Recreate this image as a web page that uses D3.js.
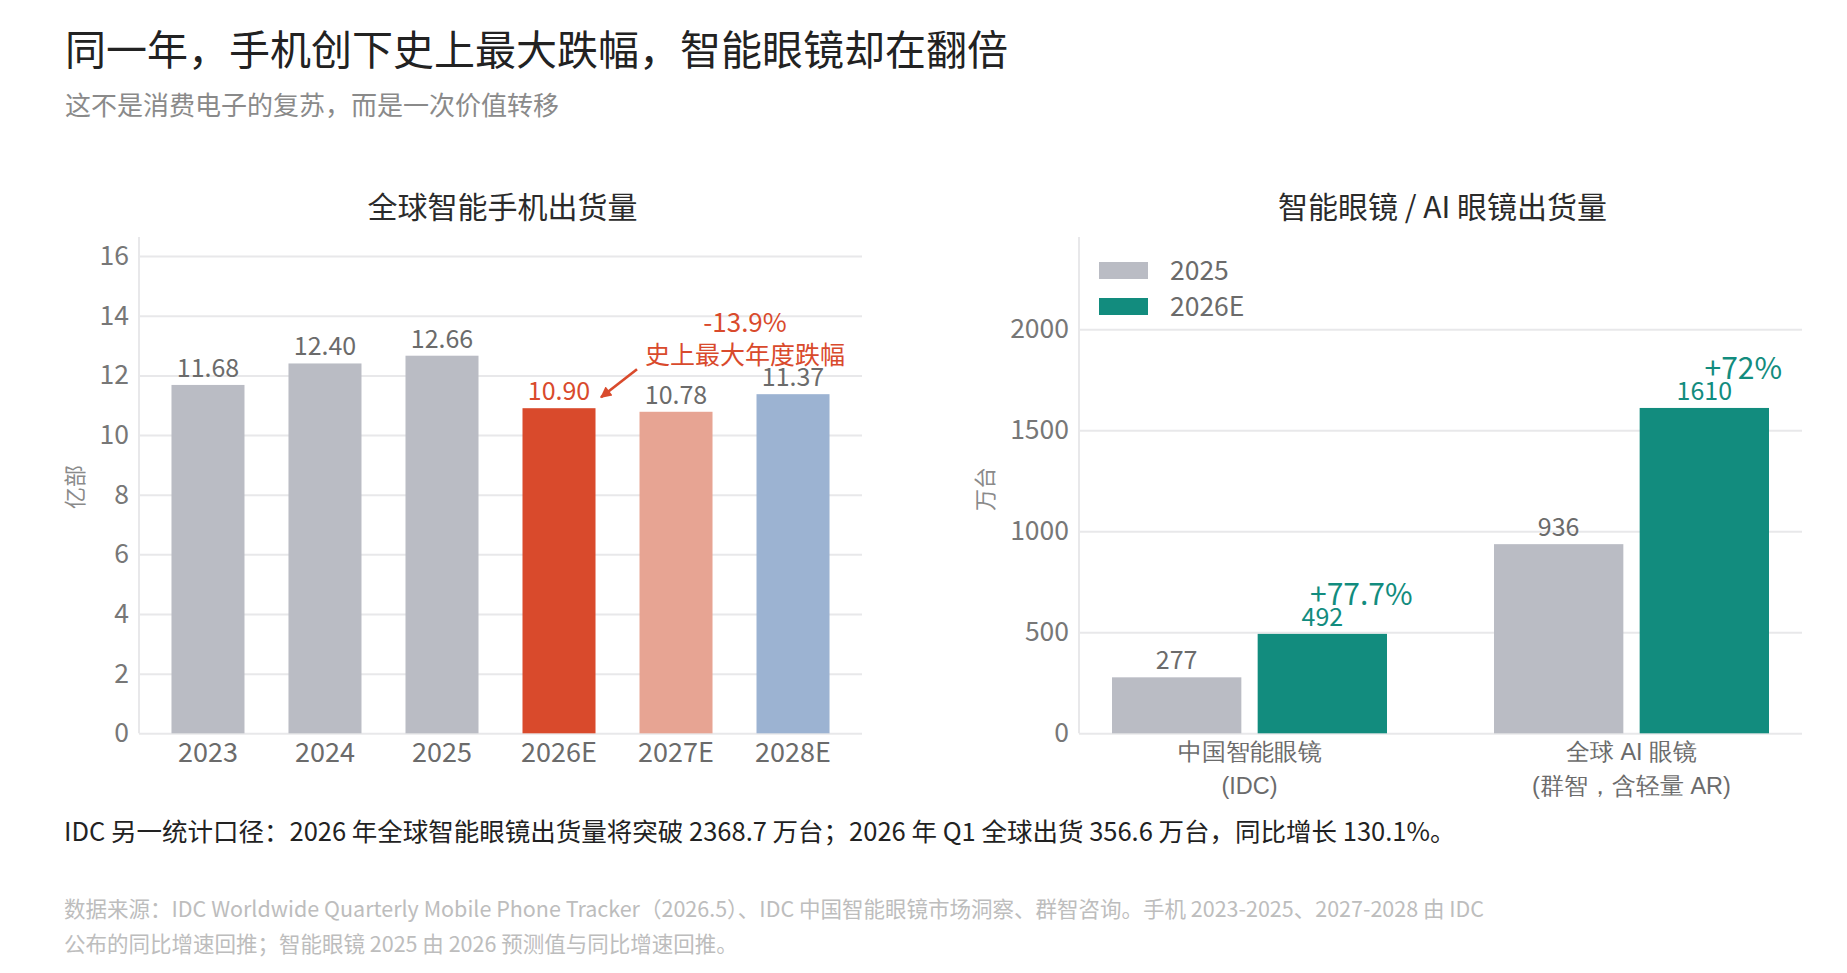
<!DOCTYPE html>
<html>
<head>
<meta charset="utf-8">
<script src="https://cdn.jsdelivr.net/npm/d3@7"></script>
<style>
  html, body { margin: 0; padding: 0; background: #fff; }
  svg { display: block; font-family: "Noto Sans CJK SC", "Noto Sans", sans-serif; }
</style>
</head>
<body>
<svg id="chart" width="1847" height="973"></svg>
<script>
// ---------------- data ----------------
const titleText = "同一年，手机创下史上最大跌幅，智能眼镜却在翻倍";
const subtitleText = "这不是消费电子的复苏，而是一次价值转移";

const phoneTitle = "全球智能手机出货量";
const phoneUnit = "亿部";
const phoneYears = ["2023", "2024", "2025", "2026E", "2027E", "2028E"];
const phoneValues = [11.68, 12.40, 12.66, 10.90, 10.78, 11.37];
const phoneTicks = [0, 2, 4, 6, 8, 10, 12, 14, 16];
const phoneNoteValue = "-13.9%";
const phoneNoteText = "史上最大年度跌幅";

const glassTitle = "智能眼镜 / AI 眼镜出货量";
const glassUnit = "万台";
const glassCategories = ["中国智能眼镜", "全球 AI 眼镜"];
const glassCategoryNotes = ["(IDC)", "(群智，含轻量 AR)"];
const glassSeries = ["2025", "2026E"];
const glass2025 = [277, 936];
const glass2026E = [492, 1610];
const glassGrowth = ["+77.7%", "+72%"];
const glassTicks = [0, 500, 1000, 1500, 2000];

const footText = "IDC 另一统计口径：2026 年全球智能眼镜出货量将突破 2368.7 万台；2026 年 Q1 全球出货 356.6 万台，同比增长 130.1%。";
const sourceLines = [
  "数据来源：IDC Worldwide Quarterly Mobile Phone Tracker（2026.5）、IDC 中国智能眼镜市场洞察、群智咨询。手机 2023-2025、2027-2028 由 IDC",
  "公布的同比增速回推；智能眼镜 2025 由 2026 预测值与同比增速回推。"
];

// ---------------- styles ----------------
const PHONE_COLORS = { "2023": "#babcc4", "2024": "#babcc4", "2025": "#babcc4",
                       "2026E": "#d94a2c", "2027E": "#e7a493", "2028E": "#9cb3d2" };
const SERIES_COLORS = { "2025": "#babcc4", "2026E": "#128c7e" };
const RED = "#d94a2c";
const TEAL = "#128c7e";
const GRID = "#e8e8ea";
const LABEL = "#6b6b6b";

const svg = d3.select("#chart");

// titles
svg.append("text").attr("x", 65).attr("y", 65)
  .attr("font-size", 41).attr("fill", "#222").text(titleText);
svg.append("text").attr("x", 65).attr("y", 115)
  .attr("font-size", 26).attr("fill", "#8a8a8a").text(subtitleText);

// ---------------- shared helpers ----------------
const plotTop = 237, plotBottom = 733.3;

function drawYAxis(g, y, ticks, left, right) {
  g.append("g").attr("transform", `translate(${left},0)`)
    .call(d3.axisLeft(y).tickValues(ticks).tickSize(-(right - left)).tickFormat(""))
    .call(s => s.select(".domain").remove())
    .call(s => s.selectAll("line").attr("stroke", GRID).attr("stroke-width", 2));
  g.append("line").attr("x1", left).attr("x2", left)
    .attr("y1", plotTop).attr("y2", plotBottom)
    .attr("stroke", GRID).attr("stroke-width", 2);
  g.append("g").attr("transform", `translate(${left},0)`)
    .call(d3.axisLeft(y).tickValues(ticks).tickSize(0).tickPadding(10).tickFormat(d3.format("d")))
    .call(s => s.select(".domain").remove())
    .call(s => s.selectAll("text").attr("font-size", 26.5).attr("fill", "#777")
      .attr("font-family", "Noto Sans CJK SC, sans-serif"));
}

// ---------------- left chart: phones ----------------
{
  const left = 139, right = 862;
  const g = svg.append("g");
  const y = d3.scaleLinear().domain([0, 16.64]).range([plotBottom, plotTop]);
  const x = d3.scaleBand().domain(phoneYears).range([left, right])
    .paddingInner(0.376).paddingOuter(0.2776);

  g.append("text").attr("x", (left + right) / 2 + 2).attr("y", 218)
    .attr("text-anchor", "middle").attr("font-size", 30).attr("fill", "#2b2b2b").text(phoneTitle);

  drawYAxis(g, y, phoneTicks, left, right);

  g.append("text").attr("transform", `translate(83,487) rotate(-90)`)
    .attr("text-anchor", "middle").attr("font-size", 22).attr("fill", "#8a8a8a").text(phoneUnit);

  const data = phoneYears.map((k, i) => ({ k, v: phoneValues[i] }));
  g.selectAll("rect.bar").data(data).enter().append("rect")
    .attr("x", d => x(d.k)).attr("width", x.bandwidth())
    .attr("y", d => y(d.v)).attr("height", d => y(0) - y(d.v))
    .attr("fill", d => PHONE_COLORS[d.k]);

  g.selectAll("text.val").data(data).enter().append("text")
    .attr("x", d => x(d.k) + x.bandwidth() / 2).attr("y", d => y(d.v) - 8)
    .attr("text-anchor", "middle").attr("font-size", 25)
    .attr("fill", d => d.k === "2026E" ? RED : LABEL)
    .text(d => d.v.toFixed(2));

  g.append("g").attr("transform", `translate(0,${plotBottom})`)
    .call(d3.axisBottom(x).tickSize(0).tickPadding(10))
    .call(s => s.select(".domain").remove())
    .call(s => s.selectAll("text").attr("font-size", 27).attr("fill", LABEL)
      .attr("font-family", "Noto Sans CJK SC, sans-serif").attr("dy", "0.71em"));

  // annotation on the 2026E drop
  const k = "2026E";
  const cx = x(k) + x.bandwidth() / 2;
  const top = y(phoneValues[phoneYears.indexOf(k)]);
  g.append("text").attr("x", cx + 186).attr("y", top - 76)
    .attr("text-anchor", "middle").attr("font-size", 26).attr("fill", RED).text(phoneNoteValue);
  g.append("text").attr("x", cx + 186).attr("y", top - 44)
    .attr("text-anchor", "middle").attr("font-size", 25).attr("fill", RED).text(phoneNoteText);

  svg.append("defs").append("marker").attr("id", "arrow")
    .attr("viewBox", "0 0 10 10").attr("refX", 9).attr("refY", 5)
    .attr("markerWidth", 4.6).attr("markerHeight", 4.2).attr("orient", "auto")
    .attr("markerUnits", "strokeWidth")
    .append("path").attr("d", "M0,0 L10,5 L0,10 z").attr("fill", RED);
  g.append("line").attr("x1", cx + 78).attr("y1", top - 39)
    .attr("x2", cx + 42).attr("y2", top - 11)
    .attr("stroke", RED).attr("stroke-width", 2.7).attr("marker-end", "url(#arrow)");
}

// ---------------- right chart: glasses ----------------
{
  const left = 1079, right = 1802;
  const g = svg.append("g");
  const y = d3.scaleLinear().domain([0, 2456]).range([plotBottom, plotTop]);
  const x0 = d3.scaleBand().domain(glassCategories).range([left, right])
    .paddingInner(0.2801).paddingOuter(0.0864);
  const x1 = d3.scaleBand().domain(glassSeries).range([0, x0.bandwidth()]).paddingInner(0.112);

  g.append("text").attr("x", (left + right) / 2 + 2).attr("y", 218)
    .attr("text-anchor", "middle").attr("font-size", 30).attr("fill", "#2b2b2b").text(glassTitle);

  drawYAxis(g, y, glassTicks, left, right);

  g.append("text").attr("transform", `translate(993,489) rotate(-90)`)
    .attr("text-anchor", "middle").attr("font-size", 22).attr("fill", "#8a8a8a").text(glassUnit);

  const seriesValues = { "2025": glass2025, "2026E": glass2026E };
  const data = [];
  glassCategories.forEach((c, i) => glassSeries.forEach(s =>
    data.push({ c, s, v: seriesValues[s][i], i })));

  g.selectAll("rect.bar").data(data).enter().append("rect")
    .attr("x", d => x0(d.c) + x1(d.s)).attr("width", x1.bandwidth())
    .attr("y", d => y(d.v)).attr("height", d => y(0) - y(d.v))
    .attr("fill", d => SERIES_COLORS[d.s]);

  g.selectAll("text.val").data(data).enter().append("text")
    .attr("x", d => x0(d.c) + x1(d.s) + x1.bandwidth() / 2).attr("y", d => y(d.v) - 8)
    .attr("text-anchor", "middle").attr("font-size", 25)
    .attr("fill", d => d.s === "2026E" ? TEAL : LABEL)
    .text(d => d3.format("d")(d.v));

  g.selectAll("text.pct").data(data.filter(d => d.s === "2026E")).enter().append("text")
    .attr("x", d => x0(d.c) + x1(d.s) + x1.bandwidth() / 2 + 39).attr("y", d => y(d.v) - 29)
    .attr("text-anchor", "middle").attr("font-size", 30).attr("fill", TEAL)
    .text(d => glassGrowth[d.i]);

  const xl = g.append("g").attr("transform", `translate(0,${plotBottom})`)
    .call(d3.axisBottom(x0).tickSize(0).tickFormat(""))
    .call(s => s.select(".domain").remove());
  xl.selectAll(".tick").each(function (d, i) {
    const t = d3.select(this);
    t.append("text").attr("y", 27).attr("text-anchor", "middle").attr("font-size", 23.5)
      .attr("fill", LABEL).text(d);
    t.append("text").attr("y", 61).attr("text-anchor", "middle").attr("font-size", 23.5)
      .attr("fill", LABEL).text(glassCategoryNotes[i]);
  });

  const lg = g.append("g");
  glassSeries.forEach((s, i) => {
    lg.append("rect").attr("x", 1099).attr("y", 262 + i * 36).attr("width", 49).attr("height", 17)
      .attr("fill", SERIES_COLORS[s]);
    lg.append("text").attr("x", 1170).attr("y", 280 + i * 36).attr("font-size", 26.5)
      .attr("fill", LABEL).text(s);
  });
}

// ---------------- footer ----------------
svg.append("text").attr("x", 64).attr("y", 841).attr("font-size", 25.5).attr("fill", "#222").text(footText);
sourceLines.forEach((t, i) => {
  svg.append("text").attr("x", 64).attr("y", 917 + i * 35).attr("font-size", 21.5)
    .attr("fill", "#bdbdbd").text(t);
});
</script>
</body>
</html>
